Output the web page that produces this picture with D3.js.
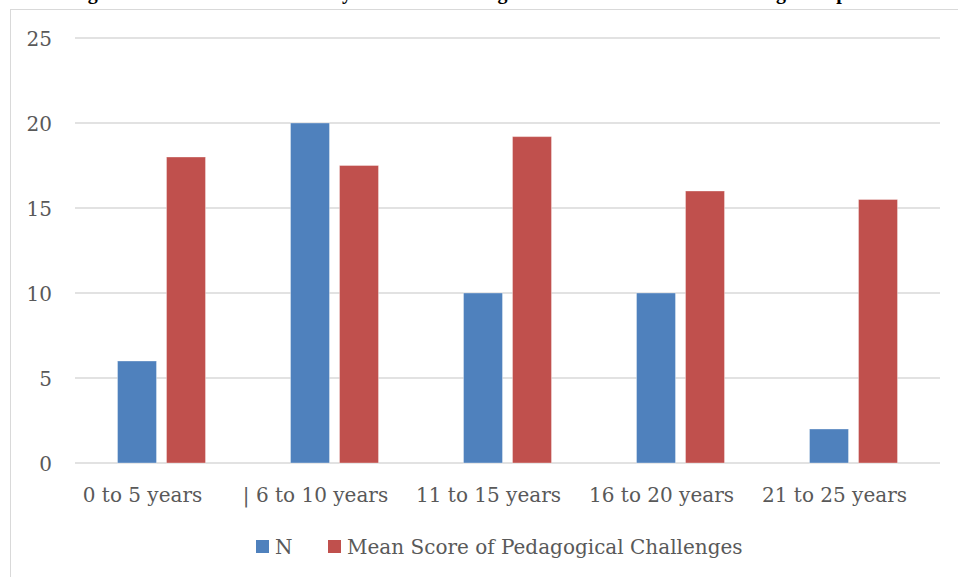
<!DOCTYPE html>
<html>
<head>
<meta charset="utf-8">
<script src="https://cdn.jsdelivr.net/npm/d3@7"></script>
<style>
  body { margin: 0; background: #fff; }
  svg { display: block; }
  .tick text { fill: #595959; }
</style>
</head>
<body>
<svg id="chart"></svg>
<script>
// Chart data;
const categories = ['0 to 5 years', '| 6 to 10 years', '11 to 15 years', '16 to 20 years', '21 to 25 years'];
const seriesNames = ['N', 'Mean Score of Pedagogical Challenges'];
const nValues = [6, 20, 10, 10, 2];
const meanValues = [18, 17.5, 19.2, 16, 15.5];
const yTicks = [0, 5, 10, 15, 20, 25];
const colors = ['#4F81BD', '#C0504D'];
const titleText = 'Figure 3: Number of Teachers by Years of Teaching and Mean Score of the Teaching Group';

const width = 958;
const height = 577;
const margin = { top: 38, right: 18, bottom: 114, left: 75 };
const font = '"DejaVu Serif", serif';

const svg = d3.select('#chart').attr('width', width).attr('height', height);

// Title, mostly cut off by the top edge (only descenders show);
svg.append('text')
    .attr('x', 70)
    .attr('y', -1.5)
    .style('font-family', '"Liberation Serif", serif')
    .style('font-weight', 'bold')
    .style('font-size', '20px')
    .text(titleText);

// Chart area border;
svg.append('rect')
    .attr('x', 10.5)
    .attr('y', 9.5)
    .attr('width', 960)
    .attr('height', 600)
    .attr('fill', 'none')
    .attr('stroke', '#d9d9d9')
    .attr('stroke-width', 1);

const x = d3.scaleBand()
    .domain(categories)
    .range([margin.left, width - margin.right]);

const y = d3.scaleLinear()
    .domain([0, 25])
    .range([height - margin.bottom, margin.top]);

// Gridlines;
svg.append('g')
    .selectAll('line')
    .data(yTicks)
    .enter()
    .append('line')
    .attr('x1', margin.left)
    .attr('x2', width - margin.right)
    .attr('y1', (d) => y(d))
    .attr('y2', (d) => y(d))
    .attr('stroke', '#d9d9d9')
    .attr('stroke-width', 1.5);

// Y axis labels;
const yAxis = svg.append('g')
    .attr('transform', `translate(52,0)`)
    .call(d3.axisLeft(y).tickValues(yTicks).tickSize(0).tickPadding(0));
yAxis.select('.domain').remove();
yAxis.selectAll('text')
    .style('font-family', font)
    .style('font-size', '20px')
    .attr('dy', '0.36em');

// X axis labels;
const xAxis = svg.append('g')
    .attr('transform', `translate(-19,${y(0)})`)
    .call(d3.axisBottom(x).tickSize(0).tickPadding(0));
xAxis.select('.domain').remove();
xAxis.selectAll('text')
    .style('font-family', font)
    .style('font-size', '20px')
    .attr('y', 39)
    .attr('dy', 0);

// Bars;
const barW = 39;
const gap = 5;
const series = [nValues, meanValues];
series.forEach((vals, s) => {
    svg.append('g')
        .selectAll('rect')
        .data(vals)
        .enter()
        .append('rect')
        .attr('x', (d, i) => x(categories[i]) + x.bandwidth() / 2 + (s === 0 ? -gap - barW : gap))
        .attr('y', (d) => y(d))
        .attr('width', barW)
        .attr('height', (d) => y(0) - y(d))
        .attr('fill', colors[s])
        .attr('stroke', 'rgba(255,255,255,0.35)')
        .attr('stroke-width', 1);
});

// Legend;
const legend = svg.append('g').attr('transform', 'translate(256,540)');
const legendX = [0, 72];
seriesNames.forEach((name, i) => {
    const g = legend.append('g').attr('transform', `translate(${legendX[i]},0)`);
    g.append('rect').attr('width', 13).attr('height', 13).attr('fill', colors[i]);
    g.append('text')
        .attr('x', 19)
        .attr('y', 14)
        .style('font-family', font)
        .style('font-size', '20px')
        .style('fill', '#595959')
        .text(name);
});
</script>
</body>
</html>
